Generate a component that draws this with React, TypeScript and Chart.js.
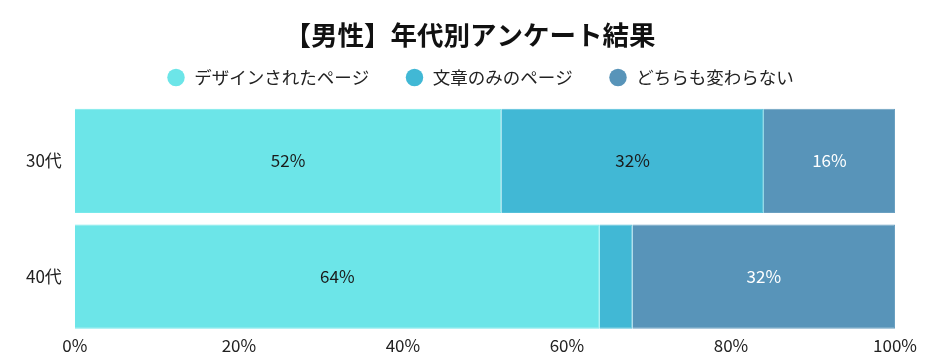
import React, { useEffect, useRef } from "react";
import { Chart, registerables } from "chart.js";

Chart.register(...registerables);

const categories = ["30代", "40代"];
const seriesNames = ["デザインされたページ", "文章のみのページ", "どちらも変わらない"];
const designed = [52, 64];
const textOnly = [32, 4];
const noDiff = [16, 32];
const xTicks = [0, 20, 40, 60, 80, 100];
const titleText = "【男性】年代別アンケート結果";

const colors = ["#6ce5e8", "#41b8d5", "#5894b9"];
const borders = ["#78e9eb", "#55c1da", "#6aa0c1"];
const labelColors = ["#1a1a1a", "#1a1a1a", "#ffffff"];
const FONT = "'Noto Sans CJK JP', 'Noto Sans', sans-serif";

const labelPlugin = {
  id: "barLabels",
  afterDatasetsDraw(chart: any) {
    const ctx = chart.ctx;
    ctx.save();
    ctx.font = `17px ${FONT}`;
    ctx.textAlign = "center";
    ctx.textBaseline = "middle";
    chart.data.datasets.forEach((ds: any, di: number) => {
      const meta = chart.getDatasetMeta(di);
      meta.data.forEach((bar: any, i: number) => {
        const v = ds.data[i];
        if (v < 8) return;
        const cx = (bar.x + bar.base) / 2;
        ctx.fillStyle = labelColors[di];
        ctx.fillText(v + "%", cx, bar.y);
      });
    });
    ctx.restore();
  },
};

const headerPlugin = {
  id: "header",
  afterDraw(chart: any) {
    const ctx = chart.ctx;
    ctx.save();
    ctx.font = `bold 26.5px ${FONT}`;
    ctx.fillStyle = "#111";
    ctx.textAlign = "center";
    ctx.textBaseline = "middle";
    ctx.fillText(titleText, 470, 35);
    const d = 17.5;
    const gapBoxText = 9.5;
    const gapItems = 36.5;
    ctx.font = `17.5px ${FONT}`;
    const widths = seriesNames.map((t) => ctx.measureText(t).width);
    const total =
      widths.reduce((a, w) => a + d + gapBoxText + w, 0) + gapItems * (seriesNames.length - 1);
    let x = 480.5 - total / 2;
    const y = 77.5;
    seriesNames.forEach((t, i) => {
      ctx.beginPath();
      ctx.fillStyle = colors[i];
      ctx.arc(x + d / 2, y, d / 2, 0, Math.PI * 2);
      ctx.fill();
      ctx.fillStyle = "#222";
      ctx.textAlign = "left";
      ctx.fillText(t, x + d + gapBoxText, y);
      x += d + gapBoxText + widths[i] + gapItems;
    });
    ctx.restore();
  },
};

export default function App() {
  const ref = useRef<HTMLCanvasElement | null>(null);
  useEffect(() => {
    if (!ref.current) return;
    const seriesData = [designed, textOnly, noDiff];
    const chart = new Chart(ref.current, {
      type: "bar",
      data: {
        labels: categories,
        datasets: seriesNames.map((name, i) => ({
          label: name,
          data: seriesData[i],
          backgroundColor: colors[i],
          borderColor: borders[i],
          borderWidth: 1,
          barPercentage: 0.9,
          categoryPercentage: 1,
        })),
      },
      options: {
        indexAxis: "y",
        animation: false,
        responsive: true,
        maintainAspectRatio: false,
        layout: { padding: { left: 13, right: 45, top: 103, bottom: 6 } },
        plugins: {
          title: { display: false },
          legend: { display: false },
          tooltip: { enabled: false },
        },
        scales: {
          x: {
            stacked: true,
            min: 0,
            max: 100,
            grid: { display: false, drawTicks: false },
            border: { display: false },
            ticks: {
              stepSize: 20,
              color: "#222",
              padding: 1,
              font: { family: FONT, size: 17 },
              callback: (v: any) => (xTicks.includes(Number(v)) ? v + "%" : ""),
            },
          },
          y: {
            stacked: true,
            grid: { display: false, drawTicks: false },
            border: { display: false },
            ticks: {
              color: "#222",
              padding: 13,
              font: { family: FONT, size: 17 },
            },
          },
        },
      },
      plugins: [labelPlugin, headerPlugin],
    } as any);
    return () => chart.destroy();
  }, []);
  return (
    <div style={{ position: "fixed", left: 0, top: 0, width: 940, height: 363 }}>
      <canvas ref={ref} />
    </div>
  );
}
